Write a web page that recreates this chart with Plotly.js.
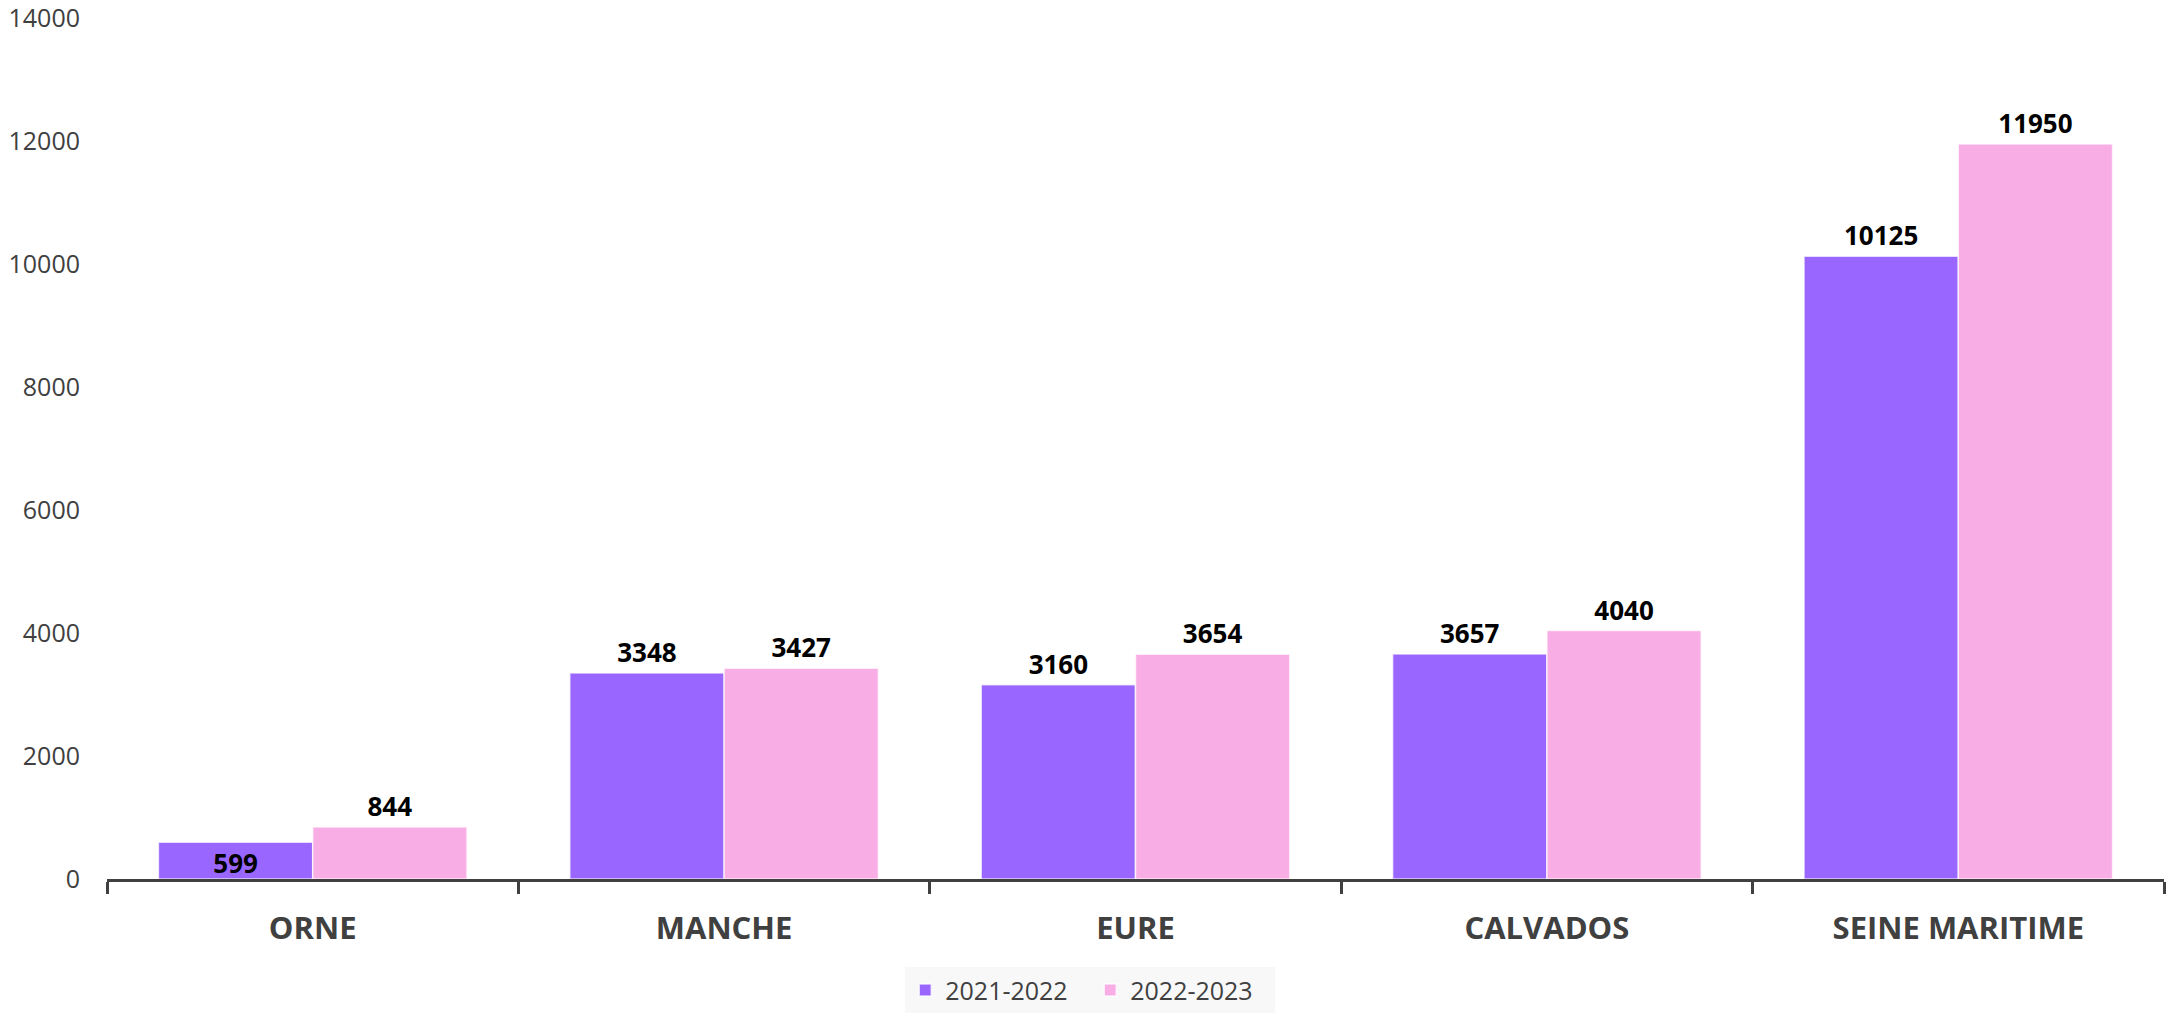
<!DOCTYPE html>
<html>
<head>
<meta charset="utf-8">
<script src="https://cdn.plot.ly/plotly-3.0.1.min.js"></script>
<style>html,body{margin:0;padding:0;background:#fff;}#chart{width:2168px;height:1016px;}</style>
</head>
<body>
<div id="chart"></div>
<script>
const categories = ["ORNE", "MANCHE", "EURE", "CALVADOS", "SEINE MARITIME"];
const seriesNames = ["2021-2022", "2022-2023"];
const values2122 = [599, 3348, 3160, 3657, 10125];
const values2223 = [844, 3427, 3654, 4040, 11950];
const yTicks = [0, 2000, 4000, 6000, 8000, 10000, 12000, 14000];

const FONT = "Open Sans, Liberation Sans, sans-serif";
const labelFont = {family: FONT, size: 26, color: "#000000", weight: "bold"};

function barTrace(name, vals, color, positions) {
  return {
    type: "bar",
    name: name,
    x: categories,
    y: vals,
    text: vals.map(String),
    textposition: positions,
    textfont: labelFont,
    insidetextfont: labelFont,
    outsidetextfont: labelFont,
    insidetextanchor: "end",
    constraintext: "none",
    cliponaxis: false,
    marker: {color: color, line: {color: "rgba(255,255,255,0.7)", width: 1.5}},
    hoverinfo: "x+y"
  };
}

const data = [
  barTrace(seriesNames[0], values2122, "#9966FF", ["inside", "outside", "outside", "outside", "outside"]),
  barTrace(seriesNames[1], values2223, "#F9ADE5", "outside")
];

const layout = {
  width: 2168,
  height: 1016,
  margin: {l: 107, r: 4, t: 18, b: 137, pad: 0},
  paper_bgcolor: "#ffffff",
  plot_bgcolor: "#ffffff",
  barmode: "group",
  bargap: 0.25,
  bargroupgap: 0,
  font: {family: FONT, color: "#404040"},
  xaxis: {
    type: "category",
    showline: true,
    linecolor: "#404040",
    linewidth: 3,
    ticks: "outside",
    tickson: "boundaries",
    ticklen: 12,
    tickwidth: 3,
    tickcolor: "#404040",
    tickfont: {family: FONT, size: 31, color: "#404040", weight: "bold"},
    ticklabelstandoff: 20,
    showgrid: false,
    zeroline: false,
    fixedrange: true
  },
  yaxis: {
    range: [0, 14000],
    tickvals: yTicks,
    ticktext: yTicks.map(String),
    ticklabeloverflow: "allow",
    showgrid: false,
    zeroline: false,
    showline: false,
    ticks: "",
    tickfont: {family: FONT, size: 25, color: "#404040"},
    ticklabelstandoff: 26,
    fixedrange: true
  },
  showlegend: true,
  legend: {
    orientation: "h",
    x: 0.478,
    xanchor: "center",
    yref: "container",
    y: 0.048,
    yanchor: "top",
    bgcolor: "#f8f8f8",
    entrywidth: 140,
    font: {family: FONT, size: 25, color: "#404040"},
    traceorder: "normal"
  }
};

Plotly.newPlot("chart", data, layout, {displayModeBar: false, staticPlot: true});
</script>
</body>
</html>
